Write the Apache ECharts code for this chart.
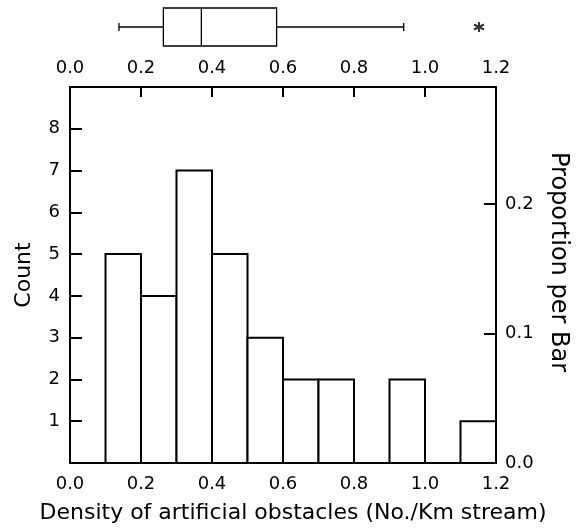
<!DOCTYPE html>
<html>
<head>
<meta charset="utf-8">
<script src="https://cdn.jsdelivr.net/npm/echarts@6/dist/echarts.min.js"></script>
<style>html,body{margin:0;padding:0;background:#fff}#c{width:583px;height:529px}</style>
</head>
<body>
<div id="c"></div>
<script>
// Histogram bins (density, No./Km stream)
const binStarts = [0.0, 0.1, 0.2, 0.3, 0.4, 0.5, 0.6, 0.7, 0.8, 0.9, 1.0, 1.1];
const binWidth = 0.1;
const counts = [0, 5, 4, 7, 5, 3, 2, 2, 0, 2, 0, 1];
const totalN = counts.reduce((a, b) => a + b, 0);
// Box plot: [whisker low, Q1, median, Q3, whisker high]
const boxStats = [0.138, 0.263, 0.370, 0.582, 0.940];
const outliers = [1.152];

const FONT = 'DejaVu Sans';
const chart = echarts.init(document.getElementById('c'), null, {renderer: 'canvas'});

const histData = binStarts.map((s, i) => [s, s + binWidth, counts[i]]);

const axisLine = {show: true, onZero: false, lineStyle: {color: '#000', width: 2}};
const labelStyle = {color: '#000', fontFamily: FONT, fontSize: 18};

chart.setOption({
  backgroundColor: '#fff',
  animation: false,
  grid: [
    {left: 70, right: 87, top: 87, bottom: 65},
    {left: 70, right: 87, top: 8, height: 38}
  ],
  xAxis: [
    {type: 'value', gridIndex: 0, position: 'bottom', min: 0, max: 1.2, interval: 0.2,
     axisLine: axisLine, splitLine: {show: false},
     axisTick: {show: true, inside: true, length: 10, lineStyle: {color: '#000', width: 2}},
     axisLabel: Object.assign({margin: 12, formatter: v => v.toFixed(1)}, labelStyle),
     name: 'Density of artificial obstacles (No./Km stream)', nameLocation: 'middle', nameGap: 39,
     nameTextStyle: {color: '#000', fontFamily: FONT, fontSize: 22, padding: [0, 0, 0, 20]}},
    {type: 'value', gridIndex: 0, position: 'top', min: 0, max: 1.2, interval: 0.2,
     axisLine: axisLine, splitLine: {show: false},
     axisTick: {show: true, inside: true, length: 10, lineStyle: {color: '#000', width: 2}},
     axisLabel: Object.assign({margin: 10, formatter: v => v.toFixed(1)}, labelStyle)},
    {type: 'value', gridIndex: 1, min: 0, max: 1.2, show: false}
  ],
  yAxis: [
    {type: 'value', gridIndex: 0, position: 'left', min: 0, max: 9, interval: 1,
     axisLine: axisLine, splitLine: {show: false},
     axisTick: {show: true, inside: true, length: 12, lineStyle: {color: '#000', width: 2}},
     axisLabel: Object.assign({margin: 10, formatter: v => (v === 0 || v === 9) ? '' : String(v)}, labelStyle),
     name: 'Count', nameLocation: 'middle', nameGap: 35,
     nameTextStyle: {color: '#000', fontFamily: FONT, fontSize: 22}},
    {type: 'value', gridIndex: 0, position: 'right', min: 0, max: 9 / totalN, interval: 0.1,
     axisLine: axisLine, splitLine: {show: false},
     axisTick: {show: true, inside: true, length: 12, lineStyle: {color: '#000', width: 2}},
     axisLabel: Object.assign({margin: 9, showMaxLabel: false, formatter: v => v.toFixed(1)}, labelStyle),
     name: 'Proportion per Bar', nameLocation: 'middle', nameGap: 50, nameRotate: -90,
     nameTextStyle: {color: '#000', fontFamily: FONT, fontSize: 24, padding: [0, 26, 0, 0]}},
    {type: 'value', gridIndex: 1, min: 0, max: 1, show: false}
  ],
  series: [
    {
      type: 'custom', xAxisIndex: 0, yAxisIndex: 0, data: histData, z: 1,
      renderItem: function (params, api) {
        const c = api.value(2);
        if (c <= 0) return null;
        const p0 = api.coord([api.value(0), c]);
        const p1 = api.coord([api.value(1), 0]);
        return {type: 'rect', shape: {x: p0[0], y: p0[1], width: p1[0] - p0[0], height: p1[1] - p0[1]},
                style: {fill: '#fff', stroke: '#000', lineWidth: 2}};
      }
    },
    {
      type: 'custom', xAxisIndex: 2, yAxisIndex: 2, data: [boxStats],
      renderItem: function (params, api) {
        const lo = api.value(0), q1 = api.value(1), md = api.value(2), q3 = api.value(3), hi = api.value(4);
        const a = api.coord([q1, 1]);
        const b = api.coord([q3, 0]);
        const midY = api.coord([0, 0.5])[1];
        const xl = api.coord([lo, 0.5])[0], xh = api.coord([hi, 0.5])[0], xm = api.coord([md, 0.5])[0];
        const st = {stroke: '#000', lineWidth: 1.3, fill: null};
        return {type: 'group', children: [
          {type: 'line', shape: {x1: xl, y1: midY, x2: a[0], y2: midY}, style: st},
          {type: 'line', shape: {x1: b[0], y1: midY, x2: xh, y2: midY}, style: st},
          {type: 'line', shape: {x1: xl, y1: midY - 4, x2: xl, y2: midY + 4}, style: st},
          {type: 'line', shape: {x1: xh, y1: midY - 4, x2: xh, y2: midY + 4}, style: st},
          {type: 'rect', shape: {x: a[0], y: a[1], width: b[0] - a[0], height: b[1] - a[1]}, style: {stroke: '#000', lineWidth: 1.3, fill: '#fff'}},
          {type: 'line', shape: {x1: xm, y1: a[1], x2: xm, y2: b[1]}, style: st}
        ]};
      }
    },
    {
      type: 'scatter', xAxisIndex: 2, yAxisIndex: 2,
      data: outliers.map(v => [v, 0.5]),
      symbol: 'path://M0,-5L0,5M-4.33,-2.5L4.33,2.5M-4.33,2.5L4.33,-2.5',
      symbolSize: 10,
      itemStyle: {color: 'none', borderColor: '#000', borderWidth: 2}
    }
  ]
});
</script>
</body>
</html>
